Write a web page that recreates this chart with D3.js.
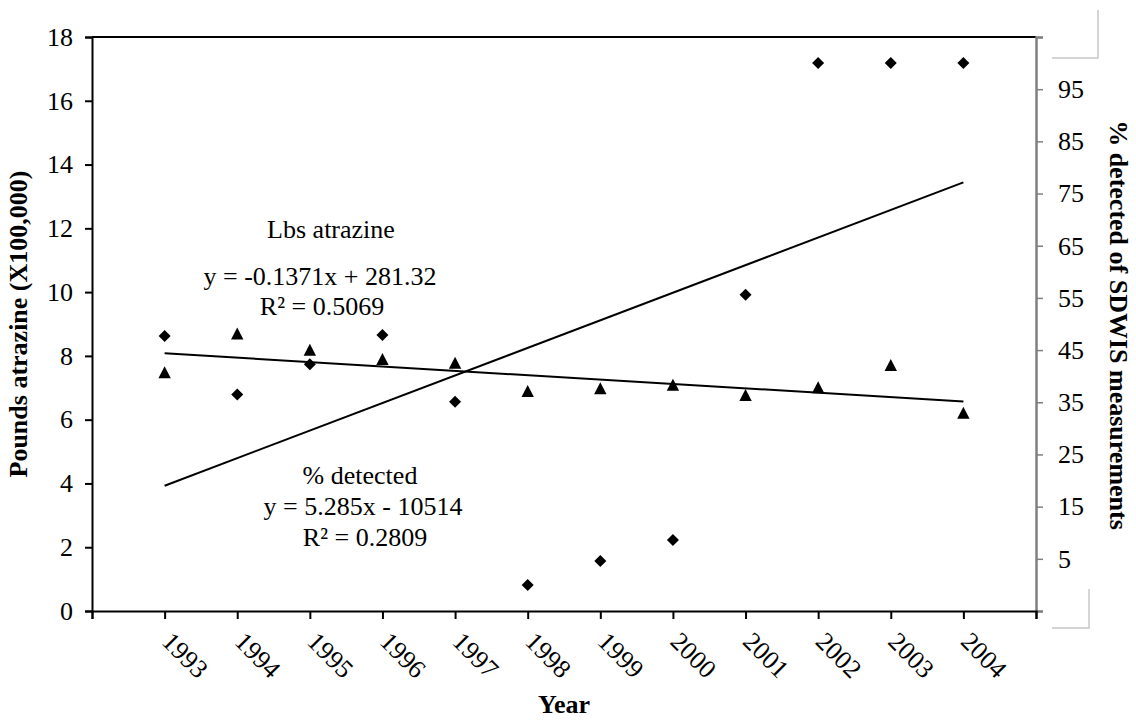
<!DOCTYPE html>
<html><head><meta charset="utf-8">
<script src="https://cdn.jsdelivr.net/npm/d3@7"></script>
<style>body{margin:0;background:#fff}svg{display:block}text{font-family:"Liberation Serif","Times New Roman",serif;fill:#000}</style>
</head><body><svg id="c" width="1136" height="721"></svg>
<script>
const years = [1993,1994,1995,1996,1997,1998,1999,2000,2001,2002,2003,2004];
const lbsAtrazine = [7.47,8.69,8.18,7.89,7.77,6.88,6.97,7.08,6.76,7.0,7.7,6.2];
const pctDetected = [47.7,36.5,42.3,47.9,35.1,0,4.6,8.6,55.6,100,100,100];
const trendLbs = [-0.1371, 281.32];
const trendPct = [5.285, -10514];
const leftTicks = [0,2,4,6,8,10,12,14,16,18];
const rightTicks = [-5,5,15,25,35,45,55,65,75,85,95,105];
const rightLabels = [5,15,25,35,45,55,65,75,85,95];
const xTicks = [1992,1993,1994,1995,1996,1997,1998,1999,2000,2001,2002,2003,2004,2005];

const FONT = "'Liberation Serif','Times New Roman',serif";
const svg = d3.select("#c");
const L=92,R=1036,T=37,B=611;
const x = d3.scaleLinear().domain([1992,2005]).range([L,R]);
const yL = d3.scaleLinear().domain([0,18]).range([B,T]);
const yR = d3.scaleLinear().domain([-5,105]).range([B,T]);

// top border
svg.append("line").attr("x1",L).attr("x2",R).attr("y1",T).attr("y2",T).attr("stroke","#000").attr("stroke-width",2);

// left axis
const gl = svg.append("g").attr("transform",`translate(${L},0)`)
  .call(d3.axisLeft(yL).tickValues(leftTicks).tickSize(7).tickPadding(12).tickFormat(d3.format("d")));
gl.attr("font-family",FONT).attr("font-size",null);
gl.select(".domain").attr("stroke","#000").attr("stroke-width",2);
gl.selectAll(".tick line").attr("stroke","#000").attr("stroke-width",2);
gl.selectAll(".tick text").style("font-size","26px").style("font-family",FONT);

// right axis
const gr = svg.append("g").attr("transform",`translate(${R},0)`)
  .call(d3.axisRight(yR).tickValues(rightTicks).tickSize(7).tickPadding(15)
    .tickFormat(d => rightLabels.includes(d) ? d : ""));
gr.attr("font-family",FONT).attr("font-size",null);
gr.select(".domain").attr("stroke","#808080").attr("stroke-width",2.5);
gr.selectAll(".tick line").attr("stroke","#808080").attr("stroke-width",1.5);
gr.selectAll(".tick text").style("font-size","26px").style("font-family",FONT);

// bottom axis
const gb = svg.append("g").attr("transform",`translate(0,${B})`)
  .call(d3.axisBottom(x).tickValues(xTicks).tickSize(8).tickFormat(""));
gb.select(".domain").attr("stroke","#000").attr("stroke-width",2);
gb.selectAll(".tick line").attr("stroke","#000").attr("stroke-width",2);
svg.append("g").selectAll("text").data(years).join("text")
  .attr("transform", d => `translate(${x(d)-4},${B+32}) rotate(45)`)
  .style("font-size","26px").style("font-family",FONT).text(d => d);

// light gray corner marks
const cg = svg.append("g").attr("stroke","#c8c8c8").attr("stroke-width",1.5).attr("fill","none");
cg.append("path").attr("d","M1098,10 V58 H1052");
cg.append("path").attr("d","M1089,589 V628 H1052");

// trendlines
const lineL = d3.line().x(d => x(d)).y(d => yL(trendLbs[0]*d + trendLbs[1]));
const lineR = d3.line().x(d => x(d)).y(d => yR(trendPct[0]*d + trendPct[1]));
const ends = [years[0], years[years.length-1]];
svg.append("path").attr("d", lineL(ends)).attr("stroke","#000").attr("stroke-width",2).attr("fill","none");
svg.append("path").attr("d", lineR(ends)).attr("stroke","#000").attr("stroke-width",2).attr("fill","none");

// markers
svg.append("g").selectAll("path").data(years).join("path")
  .attr("transform",(d,i)=>`translate(${x(d)},${yR(pctDetected[i])})`)
  .attr("d","M0,-6 L6,0 L0,6 L-6,0 Z").attr("fill","#000");
svg.append("g").selectAll("path").data(years).join("path")
  .attr("transform",(d,i)=>`translate(${x(d)},${yL(lbsAtrazine[i])})`)
  .attr("d","M0,-6.5 L6.2,5.5 L-6.2,5.5 Z").attr("fill","#000");

// annotations
const ann = [
  ["Lbs atrazine",331,238],
  ["y = -0.1371x + 281.32",320,285],
  ["R\u00B2 = 0.5069",322,315],
  ["% detected",360,484],
  ["y = 5.285x - 10514",363,515],
  ["R\u00B2 = 0.2809",365,546]
];
svg.append("g").selectAll("text").data(ann).join("text")
  .attr("x",d=>d[1]).attr("y",d=>d[2]).attr("text-anchor","middle")
  .style("font-size","26px").style("font-family",FONT).text(d=>d[0]);

// axis titles
svg.append("text").attr("x",(L+R)/2).attr("y",713).attr("text-anchor","middle")
  .style("font-size","26px").style("font-family",FONT).style("font-weight","bold").text("Year");
svg.append("text").attr("transform",`translate(27,${(T+B)/2}) rotate(-90)`).attr("text-anchor","middle")
  .style("font-size","26px").style("font-family",FONT).style("font-weight","bold").text("Pounds atrazine (X100,000)");
svg.append("text").attr("transform",`translate(1110,325) rotate(90)`).attr("text-anchor","middle")
  .style("font-size","26px").style("font-family",FONT).style("font-weight","bold").text("% detected of SDWIS measurements");
</script></body></html>
